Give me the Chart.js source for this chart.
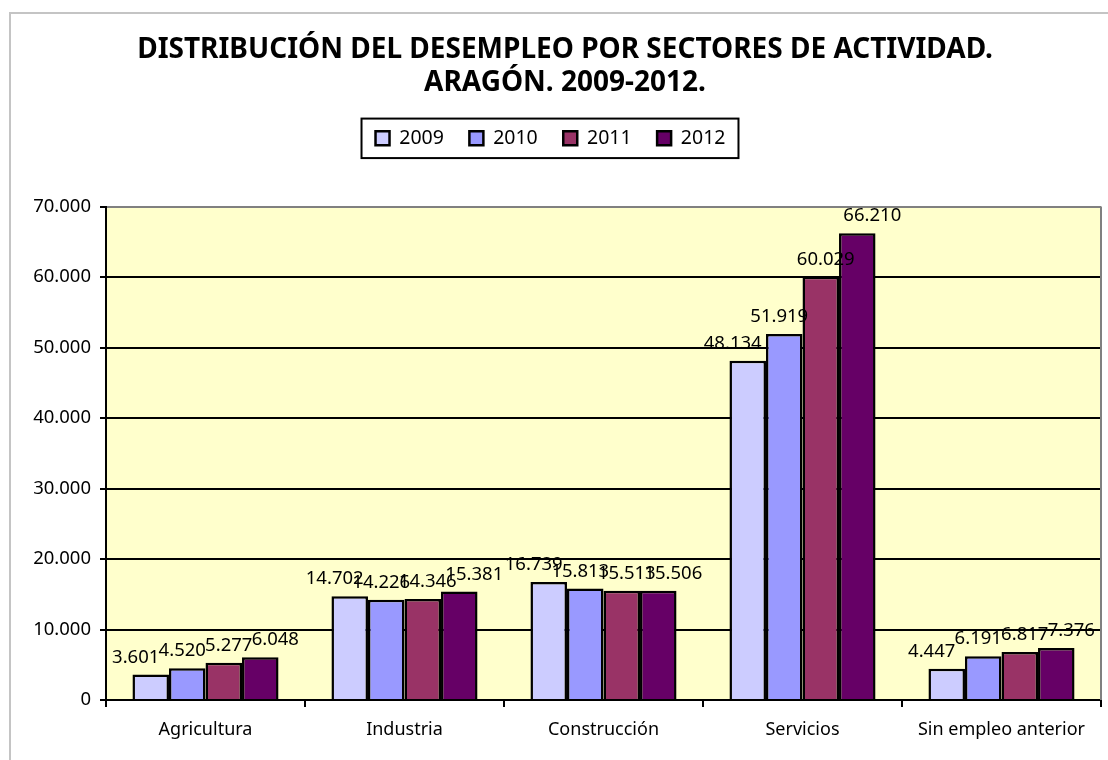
<!DOCTYPE html>
<html>
<head>
<meta charset="utf-8">
<script src="https://cdn.jsdelivr.net/npm/chart.js"></script>
<style>
  html, body { margin: 0; padding: 0; background: #fff; }
  #wrap { width: 1108px; height: 760px; }
</style>
</head>
<body>
<div id="wrap"><canvas id="chart" width="1108" height="760"></canvas></div>
<script>
const sectores = ['Agricultura', 'Industria', 'Construcción', 'Servicios', 'Sin empleo anterior'];
const anios = ['2009', '2010', '2011', '2012'];
const paro2009 = [3601, 14702, 16739, 48134, 4447];
const paro2010 = [4520, 14226, 15813, 51919, 6191];
const paro2011 = [5277, 14346, 15513, 60029, 6817];
const paro2012 = [6048, 15381, 15506, 66210, 7376];
const colores = ['#CCCCFF', '#9999FF', '#993366', '#660066'];
const tituloLineas = ['DISTRIBUCIÓN DEL DESEMPLEO POR SECTORES DE ACTIVIDAD.', 'ARAGÓN. 2009-2012.'];

function fmt(v) {
    return String(v).replace(/\B(?=(\d{3})+(?!\d))/g, '.');
}

Chart.defaults.font.family = "'Noto Sans', sans-serif";
Chart.defaults.color = '#000';

// fondo del área de trazado, marco exterior y ajuste del título
const fondo = {
    id: 'fondo',
    afterLayout(chart) {
        chart.titleBlock.left += 29;
    },
    beforeDraw(chart) {
        const { ctx, chartArea: a } = chart;
        ctx.save();
        ctx.fillStyle = '#fff';
        ctx.fillRect(0, 0, chart.width, chart.height);
        ctx.strokeStyle = '#c4c4c4';
        ctx.lineWidth = 2;
        ctx.strokeRect(10, 13, 1200, 1000);
        ctx.fillStyle = '#FFFFCC';
        ctx.fillRect(a.left, a.top, a.right - a.left, a.bottom - a.top);
        ctx.restore();
    },
    afterDraw(chart) {
        const { ctx, chartArea: a, legend } = chart;
        ctx.save();
        // borde derecho gris del área
        ctx.strokeStyle = '#808080';
        ctx.lineWidth = 2;
        ctx.beginPath();
        ctx.moveTo(a.right, a.top);
        ctx.lineTo(a.right, a.bottom);
        ctx.stroke();
        // caja de la leyenda
        const hb = legend.legendHitBoxes;
        if (hb && hb.length) {
            const first = hb[0], last = hb[hb.length - 1];
            const x0 = first.left - 14, x1 = last.left + last.width + 13;
            const y0 = first.top - 10, y1 = first.top + first.height + 10;
            ctx.strokeStyle = '#000';
            ctx.lineWidth = 2;
            ctx.strokeRect(x0, y0, x1 - x0, y1 - y0);
        }
        ctx.restore();
    }
};

// etiquetas de valor sobre cada barra
const etiquetas = {
    id: 'etiquetas',
    afterDatasetsDraw(chart) {
        const { ctx } = chart;
        ctx.save();
        ctx.font = "18.5px 'Noto Sans', sans-serif";
        ctx.fillStyle = '#000';
        ctx.textAlign = 'center';
        ctx.textBaseline = 'alphabetic';
        chart.data.datasets.forEach((ds, di) => {
            const meta = chart.getDatasetMeta(di);
            meta.data.forEach((bar, i) => {
                ctx.fillText(fmt(ds.data[i]), bar.x + (di - 1.5) * 10, bar.y - 12);
            });
        });
        ctx.restore();
    }
};

const series = [paro2009, paro2010, paro2011, paro2012];

new Chart(document.getElementById('chart').getContext('2d'), {
    type: 'bar',
    data: {
        labels: sectores,
        datasets: series.map((d, i) => ({
            label: anios[i],
            data: d,
            backgroundColor: colores[i],
            borderColor: '#000',
            borderWidth: 2.5,
            categoryPercentage: 0.734,
            barPercentage: 1
        }))
    },
    options: {
        responsive: false,
        animation: false,
        devicePixelRatio: 1,
        layout: { padding: { left: 0, right: 7, top: 0, bottom: 15 } },
        plugins: {
            title: {
                display: true,
                text: tituloLineas,
                color: '#000',
                font: { size: 28, weight: 'bold', lineHeight: 1.18 },
                padding: { top: 33.5, bottom: 3.5 }
            },
            subtitle: {
                display: true,
                text: '',
                weight: 500,
                font: { size: 1, lineHeight: 1 },
                padding: { top: 0, bottom: 47.5 }
            },
            legend: {
                display: true,
                position: 'top',
                labels: {
                    boxWidth: 14,
                    boxHeight: 14,
                    padding: 25.5,
                    color: '#000',
                    font: { size: 19.5 }
                }
            },
            tooltip: { enabled: false }
        },
        scales: {
            x: {
                afterFit(scale) { scale.height = 45; },
                border: { display: true, color: '#000', width: 2 },
                grid: {
                    offset: true,
                    drawOnChartArea: false,
                    drawTicks: true,
                    tickLength: 7,
                    color: '#000',
                    lineWidth: 2
                },
                ticks: { color: '#000', padding: 12, font: { size: 18 }, maxRotation: 0 }
            },
            y: {
                min: 0,
                max: 70000,
                afterFit(scale) { scale.width = 106; },
                border: { display: true, color: '#000', width: 2 },
                grid: {
                    color: ctx => (ctx.tick && ctx.tick.value === 70000 ? '#808080' : '#000'),
                    lineWidth: 2,
                    tickColor: '#000',
                    tickLength: 6,
                    drawTicks: true
                },
                ticks: {
                    stepSize: 10000,
                    padding: 9,
                    color: '#000',
                    font: { size: 18.5 },
                    callback: v => fmt(v)
                }
            }
        }
    },
    plugins: [fondo, etiquetas]
});
</script>
</body>
</html>
